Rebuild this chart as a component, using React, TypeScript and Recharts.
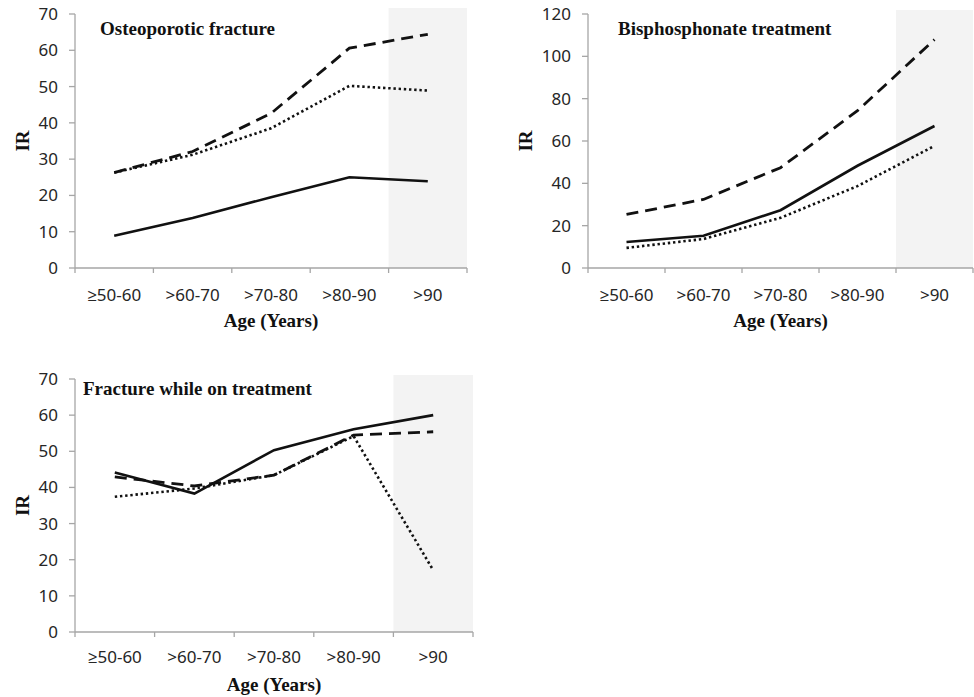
import { Label, Line, LineChart, ReferenceArea, XAxis, YAxis } from "recharts";

const ages = ["≥50-60", ">60-70", ">70-80", ">80-90", ">90"];

const fractureSolid = [8.9, 13.8, 19.5, 25.0, 23.9];
const fractureDashed = [26.3, 32.1, 42.6, 60.6, 64.4];
const fractureDotted = [26.3, 31.2, 38.5, 50.2, 48.9];

const bisSolid = [12.3, 15.2, 27.3, 48.3, 67.1];
const bisDashed = [25.3, 32.4, 47.4, 74.3, 107.9];
const bisDotted = [9.5, 13.7, 23.7, 38.7, 57.7];

const onTxSolid = [44.1, 38.3, 50.3, 56.1, 60.0];
const onTxDashed = [42.9, 40.4, 43.4, 54.5, 55.4];
const onTxDotted = [37.4, 39.7, 43.4, 54.2, 17.1];

const ticks70 = [0, 10, 20, 30, 40, 50, 60, 70];
const ticks120 = [0, 20, 40, 60, 80, 100, 120];
const bandTicks = [0, 1, 2, 3, 4, 5];

const AXIS = "#a6a6a6";
const INK = "#111";
const SERIF = "'Liberation Serif', 'Times New Roman', serif";
const SANS = "'Noto Sans', 'Open Sans', sans-serif";

type PanelProps = {
  title: string;
  solid: number[];
  dashed: number[];
  dotted: number[];
  yMax: number;
  yTicks: number[];
  width: number;
  height: number;
  left: number;
  top: number;
  axisW: number;
  mTop: number;
  mRight: number;
  xAxisH: number;
  tickDy: number;
  titleX: number;
  titleY: number;
  irX: number;
  shadeExtra: number;
};

function Panel(p: PanelProps) {
  const data = ages.map((age, i) => ({
    x: i + 0.5,
    age,
    solid: p.solid[i],
    dashed: p.dashed[i],
    dotted: p.dotted[i],
  }));
  const plotW = p.width - p.axisW - p.mRight;
  const bw = plotW / ages.length;

  const renderTick = (props: any) => {
    const { x, y, payload } = props;
    const v = payload.value as number;
    if (v >= ages.length) return <g />;
    return (
      <text
        x={x + bw / 2}
        y={y - 7 + p.tickDy}
        textAnchor="middle"
        fontFamily={SANS}
        fontSize={17}
        fill="#262626"
      >
        {ages[v]}
      </text>
    );
  };

  return (
    <div style={{ position: "absolute", left: p.left, top: p.top }}>
      <LineChart
        width={p.width}
        height={p.height}
        data={data}
        margin={{ top: p.mTop, right: p.mRight, bottom: 0, left: 0 }}
      >
        <ReferenceArea
          x1={4}
          x2={5}
          y1={0}
          y2={p.yMax}
          fill="#f3f3f3"
          fillOpacity={1}
          stroke="none"
          shape={(s: any) => (
            <rect
              x={s.x}
              y={s.y - p.shadeExtra}
              width={s.width}
              height={s.height + p.shadeExtra}
              fill="#f3f3f3"
            />
          )}
        />
        <XAxis
          dataKey="x"
          type="number"
          domain={[0, 5]}
          ticks={bandTicks}
          interval={0}
          height={p.xAxisH}
          axisLine={{ stroke: AXIS, strokeWidth: 1.3 }}
          tickLine={{ stroke: AXIS, strokeWidth: 1.3 }}
          tickSize={5}
          tick={renderTick}
        >
          <Label
            content={(lp: any) => {
              const vb = lp.viewBox;
              return (
                <text
                  x={vb.x + vb.width / 2}
                  y={vb.y + 59}
                  textAnchor="middle"
                  fontFamily={SERIF}
                  fontWeight="bold"
                  fontSize={19}
                  fill={INK}
                >
                  Age (Years)
                </text>
              );
            }}
          />
        </XAxis>
        <YAxis
          type="number"
          domain={[0, p.yMax]}
          ticks={p.yTicks}
          interval={0}
          width={p.axisW}
          axisLine={{ stroke: AXIS, strokeWidth: 1.3 }}
          tickLine={{ stroke: AXIS, strokeWidth: 1.3 }}
          tickSize={6}
          tickMargin={11}
          tick={{ fontFamily: SANS, fontSize: 17, fill: "#262626" }}
        >
          <Label
            content={(lp: any) => {
              const vb = lp.viewBox;
              const cy = vb.y + vb.height / 2;
              return (
                <text
                  x={vb.x + p.irX}
                  y={cy}
                  transform={`rotate(-90 ${vb.x + p.irX} ${cy})`}
                  textAnchor="middle"
                  dominantBaseline="central"
                  fontFamily={SERIF}
                  fontWeight="bold"
                  fontSize={19}
                  fill={INK}
                >
                  IR
                </text>
              );
            }}
          />
        </YAxis>
        <Line
          dataKey="dotted"
          stroke={INK}
          strokeWidth={2.6}
          strokeDasharray="2.4 2.8"
          dot={false}
          activeDot={false}
          isAnimationActive={false}
        />
        <Line
          dataKey="dashed"
          stroke={INK}
          strokeWidth={2.8}
          strokeDasharray="12 7"
          dot={false}
          activeDot={false}
          isAnimationActive={false}
        />
        <Line
          dataKey="solid"
          stroke={INK}
          strokeWidth={2.6}
          dot={false}
          activeDot={false}
          isAnimationActive={false}
        />
        <text x={p.titleX} y={p.titleY} fontFamily={SERIF} fontWeight="bold" fontSize={19} fill={INK}>
          {p.title}
        </text>
      </LineChart>
    </div>
  );
}

export default function App() {
  return (
    <div style={{ position: "absolute", left: 0, top: 0, width: 974, height: 697, background: "#fff" }}>
      <Panel
        title="Osteoporotic fracture"
        solid={fractureSolid}
        dashed={fractureDashed}
        dotted={fractureDotted}
        yMax={70}
        yTicks={ticks70}
        width={480}
        height={340}
        left={0}
        top={0}
        axisW={75}
        mTop={14}
        mRight={13}
        xAxisH={72}
        tickDy={33}
        titleX={100}
        titleY={35}
        irX={22}
        shadeExtra={6}
      />
      <Panel
        title="Bisphosphonate treatment"
        solid={bisSolid}
        dashed={bisDashed}
        dotted={bisDotted}
        yMax={120}
        yTicks={ticks120}
        width={484}
        height={340}
        left={490}
        top={0}
        axisW={98}
        mTop={14}
        mRight={1}
        xAxisH={72}
        tickDy={33}
        titleX={128}
        titleY={35}
        irX={35}
        shadeExtra={4}
      />
      <Panel
        title="Fracture while on treatment"
        solid={onTxSolid}
        dashed={onTxDashed}
        dotted={onTxDotted}
        yMax={70}
        yTicks={ticks70}
        width={480}
        height={337}
        left={0}
        top={360}
        axisW={75}
        mTop={19}
        mRight={7}
        xAxisH={65}
        tickDy={31}
        titleX={83}
        titleY={35}
        irX={22}
        shadeExtra={4}
      />
    </div>
  );
}
